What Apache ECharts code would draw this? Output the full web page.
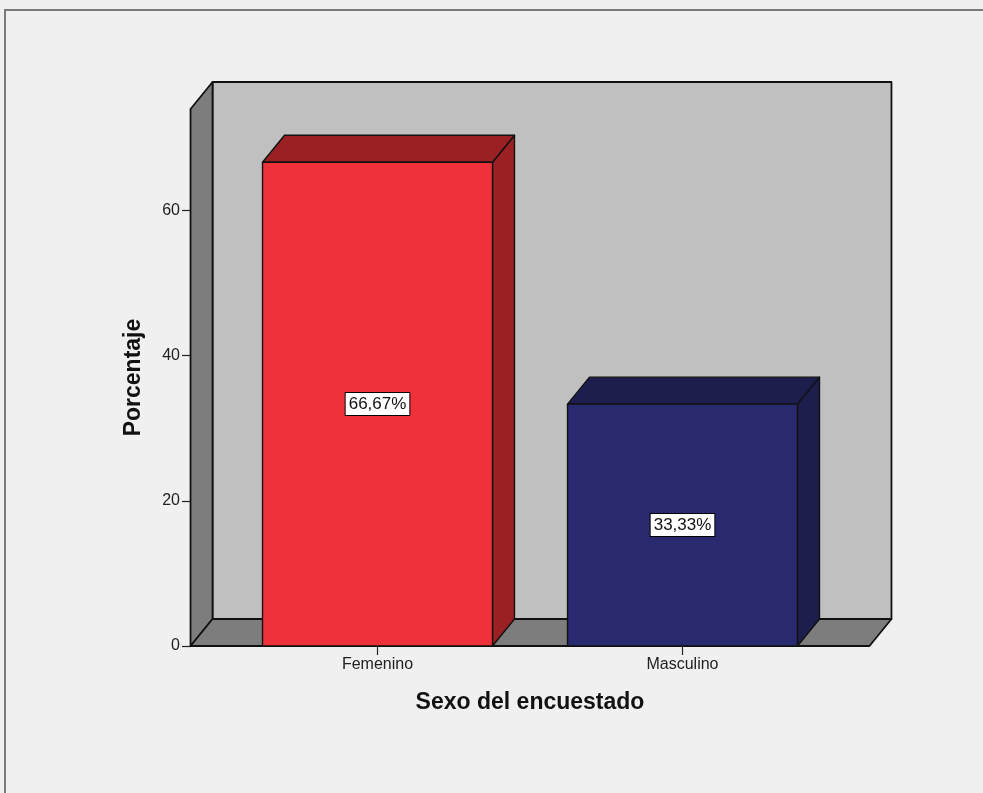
<!DOCTYPE html>
<html>
<head>
<meta charset="utf-8">
<script src="https://cdn.jsdelivr.net/npm/echarts@6/dist/echarts.min.js"></script>
<style>
html,body{margin:0;padding:0;background:#f0f0f0;}
#chart{width:983px;height:793px;}
</style>
</head>
<body>
<div id="chart"></div>
<script>
const categories = ['Femenino', 'Masculino'];
const percentages = [66.67, 33.33];
const valueLabels = ['66,67%', '33,33%'];
const yTickValues = [0, 20, 40, 60];
const yAxisMax = 74;
const frontColors = ['#ef3139', '#29296f'];
const sideColors = ['#9a2024', '#1e1e4e'];
const xTitle = 'Sexo del encuestado';
const yTitle = 'Porcentaje';

const FONT = "'Liberation Sans', Arial, sans-serif";
const DX = 22, DY = 27;
const EDGE = '#111';

const chart = echarts.init(document.getElementById('chart'), null, {renderer: 'canvas'});

function renderWalls(params, api) {
  const cs = params.coordSys;
  const band = api.size([1, 0])[0];
  const ext = band * 0.113;
  const L = cs.x - ext, R = cs.x + cs.width + ext;
  const T = cs.y, B = cs.y + cs.height;
  const st = {stroke: EDGE, lineWidth: 1.8, lineJoin: 'round'};
  return {
    type: 'group',
    children: [
      {type: 'polygon', shape: {points: [[L + DX, T - DY], [R + DX, T - DY], [R + DX, B - DY], [L + DX, B - DY]]},
        style: Object.assign({fill: '#c0c0c0'}, st)},
      {type: 'polygon', shape: {points: [[L, B], [L + DX, B - DY], [L + DX, T - DY], [L, T]]},
        style: Object.assign({fill: '#7d7d7d'}, st)},
      {type: 'polygon', shape: {points: [[L, B], [R, B], [R + DX, B - DY], [L + DX, B - DY]]},
        style: Object.assign({fill: '#7d7d7d'}, st)}
    ]
  };
}

function renderBar(params, api) {
  const i = api.value(0);
  const v = api.value(1);
  const top = api.coord([i, v]);
  const base = api.coord([i, 0]);
  const mid = api.coord([i, v / 2]);
  const band = api.size([1, 0])[0];
  const w = band * 0.754;
  const x0 = top[0] - w / 2, x1 = top[0] + w / 2;
  const yt = top[1], yb = base[1];
  const idx = params.dataIndex;
  const st = {stroke: EDGE, lineWidth: 1.4, lineJoin: 'round'};
  return {
    type: 'group',
    children: [
      {type: 'polygon', shape: {points: [[x1, yt], [x1 + DX, yt - DY], [x1 + DX, yb - DY], [x1, yb]]},
        style: Object.assign({fill: sideColors[idx]}, st)},
      {type: 'polygon', shape: {points: [[x0, yt], [x0 + DX, yt - DY], [x1 + DX, yt - DY], [x1, yt]]},
        style: Object.assign({fill: sideColors[idx]}, st)},
      {type: 'rect', shape: {x: x0, y: yt, width: w, height: yb - yt},
        style: Object.assign({fill: frontColors[idx]}, st)},
      {type: 'text', x: mid[0], y: mid[1],
        style: {text: valueLabels[idx], font: '17px ' + FONT, fill: '#111', align: 'center', verticalAlign: 'middle',
          backgroundColor: '#ffffff', borderColor: '#000', borderWidth: 1, padding: [3, 3, 2, 3]}}
    ]
  };
}

const option = {
  backgroundColor: '#f0f0f0',
  animation: false,
  graphic: [
    {type: 'rect', shape: {x: 5, y: 10, width: 1100, height: 900},
      style: {fill: 'none', stroke: '#7a7a7a', lineWidth: 2}, z: 100}
  ],
  grid: {left: 225, right: 148, top: 109, bottom: 147, containLabel: false},
  xAxis: {
    type: 'category',
    data: categories,
    boundaryGap: true,
    axisLine: {show: false},
    axisTick: {show: true, alignWithLabel: true, length: 9, lineStyle: {color: '#222', width: 1.2}},
    axisLabel: {margin: 11, fontSize: 16, fontFamily: FONT, color: '#222'},
    name: xTitle,
    nameLocation: 'middle',
    nameGap: 45,
    nameTextStyle: {fontSize: 23, fontWeight: 'bold', fontFamily: FONT, color: '#111'},
    splitLine: {show: false}
  },
  yAxis: {
    type: 'value',
    min: 0,
    max: yAxisMax,
    interval: 20,
    offset: 34,
    axisLine: {show: true, lineStyle: {color: EDGE, width: 1.8}},
    axisTick: {show: true, length: 9, customValues: yTickValues, lineStyle: {color: '#222', width: 1.2}},
    axisLabel: {margin: 11, fontSize: 16, fontFamily: FONT, color: '#222', customValues: yTickValues},
    splitLine: {show: false},
    name: yTitle,
    nameLocation: 'middle',
    nameGap: 46,
    nameTextStyle: {fontSize: 23, fontWeight: 'bold', fontFamily: FONT, color: '#111'}
  },
  series: [
    {type: 'custom', renderItem: renderWalls, data: [[0, 0]], z: 1, silent: true, clip: false},
    {type: 'custom', renderItem: renderBar, data: categories.map((c, i) => [i, percentages[i]]), z: 2, clip: false}
  ]
};
chart.setOption(option);
</script>
</body>
</html>
